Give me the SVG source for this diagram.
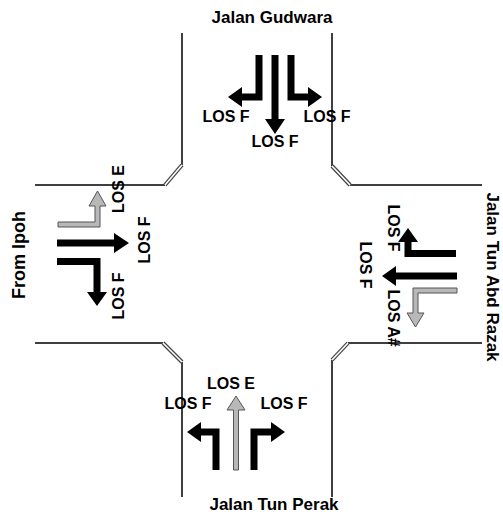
<svg xmlns="http://www.w3.org/2000/svg" width="503" height="517" viewBox="0 0 503 517">
<style>
.road{fill:none;stroke:#000;stroke-width:1.5}
.ch{fill:none;stroke:#444;stroke-width:4}
.chi{fill:none;stroke:#fff;stroke-width:1.6}
.blk{fill:#000}
.gry{fill:#b8b8b8;stroke:#555;stroke-width:1}
.t{font-family:"Liberation Sans",Arial,sans-serif;font-weight:bold;font-size:16px;fill:#000;text-anchor:middle}
.rn{font-family:"Liberation Sans",Arial,sans-serif;font-weight:bold;font-size:17px;fill:#000;text-anchor:middle}
</style>
<rect width="503" height="517" fill="#fff"/>
<g id="roads">
<path class="road" d="M182,33 V165 M165,185 H35"/>
<path class="ch" d="M182,165 L165,185"/><path class="chi" d="M182,165 L165,185"/>
<path class="road" d="M332,33 V166 M350,185 H482"/>
<path class="ch" d="M332,166 L350,185"/><path class="chi" d="M332,166 L350,185"/>
<path class="road" d="M35,343 H163 M182,362 V497"/>
<path class="ch" d="M163,343 L182,362"/><path class="chi" d="M163,343 L182,362"/>
<path class="road" d="M482,343 H348 M332,360 V497"/>
<path class="ch" d="M348,343 L332,360"/><path class="chi" d="M348,343 L332,360"/>
</g>
<g id="north">
<text class="rn" x="272" y="23">Jalan Gudwara</text>
<polygon class="blk" points="255.5,55 262.5,55 262.5,100.5 242,100.5 242,107 228,97 242,87 242,93.5 255.5,93.5"/>
<polygon class="blk" points="271.5,55 278.5,55 278.5,119 285,119 275,134 265,119 271.5,119"/>
<polygon class="blk" points="294.5,55 287.5,55 287.5,100.5 308,100.5 308,107 322,97 308,87 308,93.5 294.5,93.5"/>
<text class="t" x="226" y="122">LOS F</text>
<text class="t" x="327" y="122">LOS F</text>
<text class="t" x="275" y="147">LOS F</text>
</g>
<g id="west">
<text class="rn" style="font-size:18px" transform="translate(25,255) rotate(-90)">From Ipoh</text>
<polygon class="gry" points="58,222 95,222 95,206 89,206 97.5,191 106,206 100,206 100,227 58,227"/>
<polygon class="blk" points="57,239.5 114,239.5 114,233 129,243 114,253 114,246.5 57,246.5"/>
<polygon class="blk" points="57,258 100.5,258 100.5,292 107,292 97,306 87,292 93.5,292 93.5,265 57,265"/>
<text class="t" transform="translate(124,189) rotate(-90)">LOS E</text>
<text class="t" transform="translate(150,240) rotate(-90)">LOS F</text>
<text class="t" transform="translate(124,296) rotate(-90)">LOS F</text>
</g>
<g id="east">
<text class="rn" transform="translate(487,277) rotate(90)">Jalan Tun Abd Razak</text>
<polygon class="blk" points="456,250 456,257 404.5,257 404.5,242 398,242 408,228 418,242 411.5,242 411.5,250"/>
<polygon class="blk" points="457,272.5 457,279.5 396,279.5 396,286 382,276 396,266 396,272.5"/>
<polygon class="gry" points="457,288 457,293 418,293 418,313 424,313 415.5,327 407,313 413,313 413,288"/>
<text class="t" transform="translate(388,228) rotate(90)">LOS F</text>
<text class="t" transform="translate(360,265) rotate(90)">LOS F</text>
<text class="t" transform="translate(388,318) rotate(90)">LOS A#</text>
</g>
<g id="south">
<text class="rn" x="274" y="510">Jalan Tun Perak</text>
<polygon class="gry" points="233.5,470 233.5,410 227,410 236,396 245,410 238.5,410 238.5,470"/>
<polygon class="blk" points="219.5,470 212.5,470 212.5,435.5 201,435.5 201,442 187,432 201,422 201,428.5 219.5,428.5"/>
<polygon class="blk" points="250.5,470 250.5,428.5 271,428.5 271,422 285,432 271,442 271,435.5 257.5,435.5 257.5,470"/>
<text class="t" x="231" y="389">LOS E</text>
<text class="t" x="188" y="409">LOS F</text>
<text class="t" x="284" y="409">LOS F</text>
</g>
</svg>
